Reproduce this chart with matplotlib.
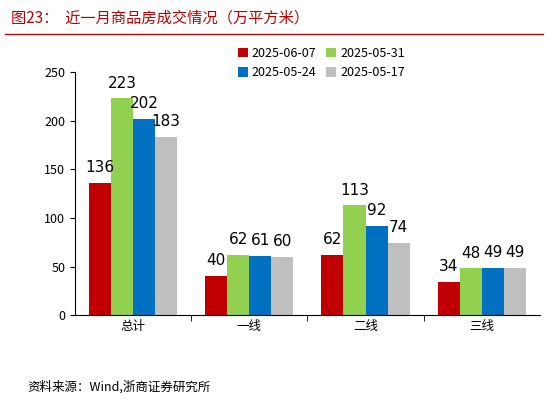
import matplotlib
matplotlib.use("Agg")
import matplotlib.pyplot as plt
import numpy as np
plt.rcParams['font.family'] = ['Noto Sans CJK SC', 'DejaVu Sans']

categories = ['总计', '一线', '二线', '三线']
series_names = ['2025-06-07', '2025-05-31', '2025-05-24', '2025-05-17']
values = [
    [136, 40, 62, 34],
    [223, 62, 113, 48],
    [202, 61, 92, 49],
    [183, 60, 74, 49],
]
colors = ['#C00000', '#92D050', '#0070C0', '#BFBFBF']

fig = plt.figure(figsize=(5.48, 4.03), dpi=100)
ax = fig.add_axes([0.137, 0.218, 0.848, 0.603])
x = np.arange(len(categories))
w = 0.19
handles = []
for i, (name, vals) in enumerate(zip(series_names, values)):
    pos = x + (i - 1.5) * w
    bars = ax.bar(pos, vals, w, color=colors[i], label=name)
    handles.append(bars)
    for p, v in zip(pos, vals):
        ax.text(p, v + 8, str(v), ha='center', va='bottom', fontsize=11, family='DejaVu Sans')
ax.set_xlim(-0.5, 3.5)
ax.set_ylim(0, 250)
ax.set_yticks(range(0, 251, 50))
ax.set_xticks(x)
ax.set_xticklabels(categories, fontsize=9)
ax.tick_params(axis='y', labelsize=9)
ax.set_xticks([0.5, 1.5, 2.5], minor=True)
ax.tick_params(axis='x', which='major', length=0)
ax.tick_params(axis='x', which='minor', length=4)
for s in ['top', 'right']:
    ax.spines[s].set_visible(False)
order = [0, 2, 1, 3]
ax.legend([handles[k] for k in order], [series_names[k] for k in order],
          ncol=2, loc='upper center', bbox_to_anchor=(0.53, 1.15), frameon=False,
          fontsize=9, handlelength=0.8, handleheight=0.8, columnspacing=0.8, handletextpad=0.3)

fig.text(0.02, 0.955, '图23：  近一月商品房成交情况（万平方米）', color='#C00000', fontsize=11, va='center')
fig.add_artist(plt.Line2D([0.01, 0.99], [0.915, 0.915], color='#C00000', lw=1))
fig.text(0.05, 0.04, '资料来源：Wind,浙商证券研究所', fontsize=9, va='center')
fig.savefig('out.png', dpi=100)
